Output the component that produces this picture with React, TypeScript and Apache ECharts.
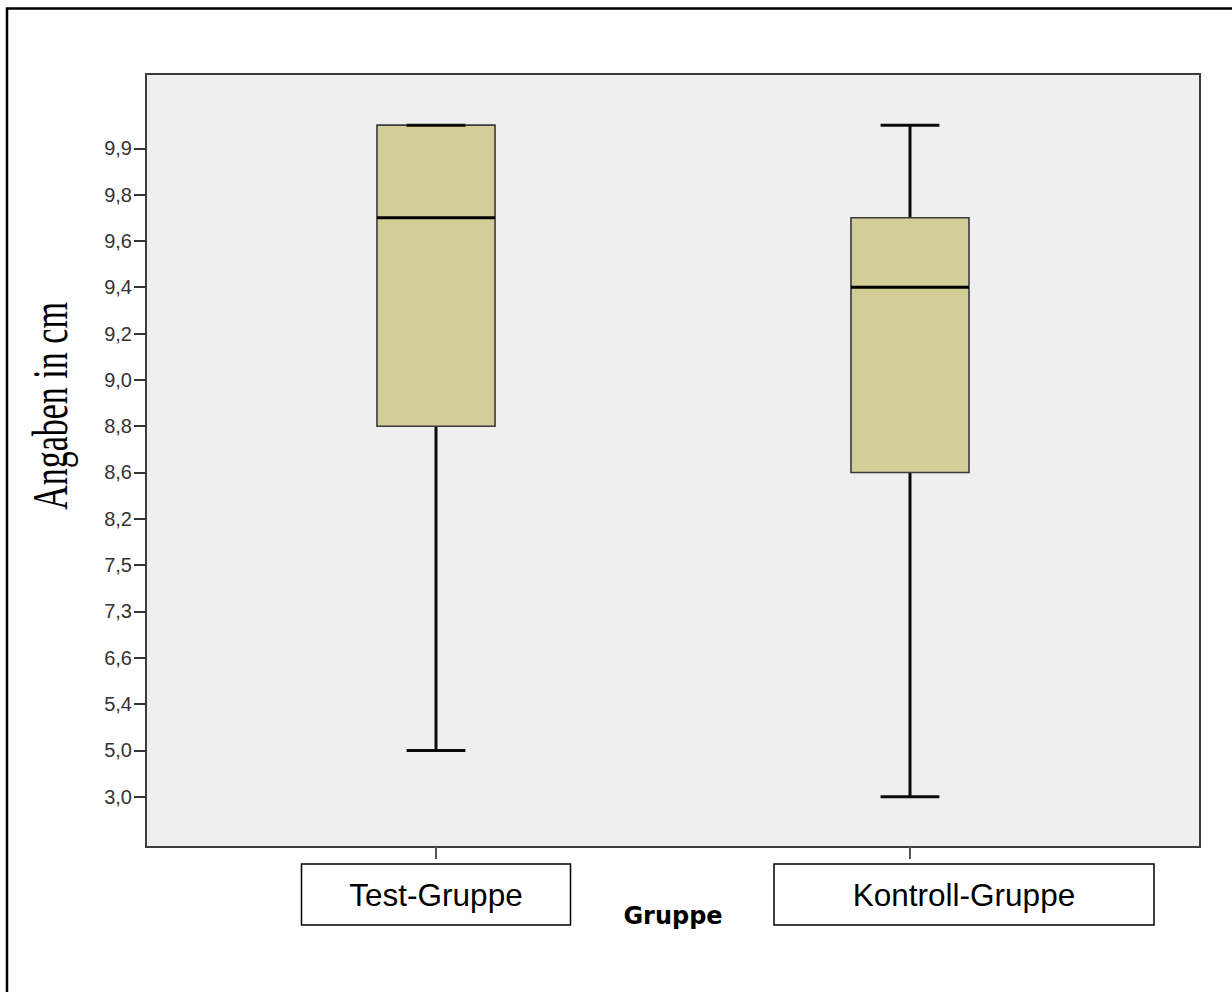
import React, { useEffect, useRef } from "react";
import * as echarts from "echarts";

// Group names along the x axis
const groups = ["Test-Gruppe", "Kontroll-Gruppe"];

// Tick labels of the rank-spaced y axis, bottom to top (one step per rank)
const yTickLabels = [
  "3,0", "5,0", "5,4", "6,6", "7,3", "7,5", "8,2", "8,6",
  "8,8", "9,0", "9,2", "9,4", "9,6", "9,8", "9,9",
];

// Five-number summaries as rank positions on the y axis:
// [minimum, lower quartile, median, upper quartile, maximum]
const testGroup = [1, 8, 12.5, 14.5, 14.5];
const controlGroup = [0, 7, 11, 12.5, 14.5];

const yTitle = "Angaben in cm";
const xTitle = "Gruppe";

const SANS = '"Liberation Sans", Arial, sans-serif';

export default function App() {
  const ref = useRef<HTMLDivElement>(null);

  useEffect(() => {
    if (!ref.current) return;
    const chart = echarts.init(ref.current, undefined, { renderer: "svg" });

    const yMin = -1.086;
    const yMax = 15.604;
    const tickPositions = yTickLabels.map((_, i) => i);
    const summaries = [testGroup, controlGroup];

    const option: any = {
      animation: false,
      backgroundColor: "#ffffff",
      grid: [
        {
          // framed plot area carrying the visible y axis
          left: 146,
          top: 74,
          width: 1054,
          height: 773,
          show: true,
          backgroundColor: "#efefef",
          borderColor: "#3c3c3c",
          borderWidth: 2,
        },
        {
          // inner band grid positioning the two groups
          left: 199,
          top: 74,
          width: 948,
          height: 773,
        },
      ],
      xAxis: [
        { gridIndex: 0, type: "value", show: false, min: 0, max: 1 },
        {
          gridIndex: 1,
          type: "category",
          data: groups,
          position: "bottom",
          axisLine: { show: false, onZero: false },
          axisTick: {
            show: true,
            alignWithLabel: true,
            length: 12,
            lineStyle: { color: "#555", width: 2 },
          },
          axisLabel: {
            interval: 0,
            margin: 17,
            formatter: (v: string, i: number) =>
              i === 0 ? `{a|${v}}` : `{s|}{b|${v}}`,
            rich: {
              a: {
                width: 269,
                height: 61,
                lineHeight: 61,
                align: "center",
                borderColor: "#000",
                borderWidth: 1.5,
                fontSize: 31.5,
                fontFamily: SANS,
                color: "#000",
              },
              s: { width: 108 },
              b: {
                width: 380,
                height: 61,
                lineHeight: 61,
                align: "center",
                borderColor: "#000",
                borderWidth: 1.5,
                fontSize: 31.5,
                fontFamily: SANS,
                color: "#000",
              },
            },
          },
          splitLine: { show: false },
          name: xTitle,
          nameLocation: "middle",
          nameGap: 57,
          nameMoveOverlap: false,
          nameTextStyle: {
            fontFamily: '"DejaVu Sans", Verdana, sans-serif',
            fontWeight: "bold",
            fontSize: 24,
            color: "#000",
          },
        },
      ],
      yAxis: [
        {
          gridIndex: 0,
          type: "value",
          min: yMin,
          max: yMax,
          axisLine: { show: false },
          splitLine: { show: false },
          axisTick: {
            show: true,
            length: 12,
            customValues: tickPositions,
            lineStyle: { color: "#333", width: 2 },
          },
          axisLabel: {
            margin: 14,
            customValues: tickPositions,
            formatter: (v: number) => yTickLabels[Math.round(v)] ?? "",
            fontSize: 20,
            fontFamily: SANS,
            color: "#333",
          },
        },
        {
          gridIndex: 1,
          type: "value",
          min: yMin,
          max: yMax,
          show: false,
        },
      ],
      series: [
        {
          type: "custom",
          xAxisIndex: 1,
          yAxisIndex: 1,
          clip: false,
          encode: { x: 0, y: [1, 2, 3, 4, 5] },
          data: summaries.map((s, i) => [i, ...s]),
          renderItem: (params: any, api: any) => {
            const cat = api.value(0);
            const lo = api.coord([cat, api.value(1)]);
            const q1 = api.coord([cat, api.value(2)]);
            const med = api.coord([cat, api.value(3)]);
            const q3 = api.coord([cat, api.value(4)]);
            const hi = api.coord([cat, api.value(5)]);
            const band = api.size([1, 0])[0];
            const boxW = band * 0.249;
            const capW = band * 0.124;
            const x = lo[0];
            const whisker = { stroke: "#0a0a0a", lineWidth: 3 };
            return {
              type: "group",
              children: [
                {
                  type: "line",
                  shape: { x1: x, y1: q1[1], x2: x, y2: lo[1] },
                  style: whisker,
                },
                {
                  type: "line",
                  shape: { x1: x, y1: q3[1], x2: x, y2: hi[1] },
                  style: whisker,
                },
                {
                  type: "rect",
                  shape: {
                    x: x - boxW / 2,
                    y: q3[1],
                    width: boxW,
                    height: q1[1] - q3[1],
                  },
                  style: { fill: "#d3ce97", stroke: "#3a3a3a", lineWidth: 1.6 },
                },
                {
                  type: "line",
                  shape: { x1: x - capW / 2, y1: lo[1], x2: x + capW / 2, y2: lo[1] },
                  style: whisker,
                },
                {
                  type: "line",
                  shape: { x1: x - capW / 2, y1: hi[1], x2: x + capW / 2, y2: hi[1] },
                  style: whisker,
                },
                {
                  type: "line",
                  shape: { x1: x - boxW / 2, y1: med[1], x2: x + boxW / 2, y2: med[1] },
                  style: { stroke: "#000", lineWidth: 3 },
                },
              ],
            };
          },
        },
      ],
      graphic: [
        {
          // page frame
          type: "rect",
          shape: { x: 7, y: 8.5, width: 1400, height: 1200 },
          style: { fill: "none", stroke: "#000", lineWidth: 2.5 },
          silent: true,
        },
        {
          // condensed serif title running bottom to top
          type: "text",
          x: 50,
          y: 406,
          rotation: Math.PI / 2,
          scaleX: 0.68,
          style: {
            text: yTitle,
            fontFamily: '"Liberation Serif", "Times New Roman", serif',
            fontSize: 50,
            fill: "#000",
            align: "center",
            verticalAlign: "middle",
          },
        },
      ],
    };

    chart.setOption(option);
    return () => chart.dispose();
  }, []);

  return (
    <div
      ref={ref}
      style={{ position: "absolute", left: 0, top: 0, width: 1232, height: 992 }}
    />
  );
}
